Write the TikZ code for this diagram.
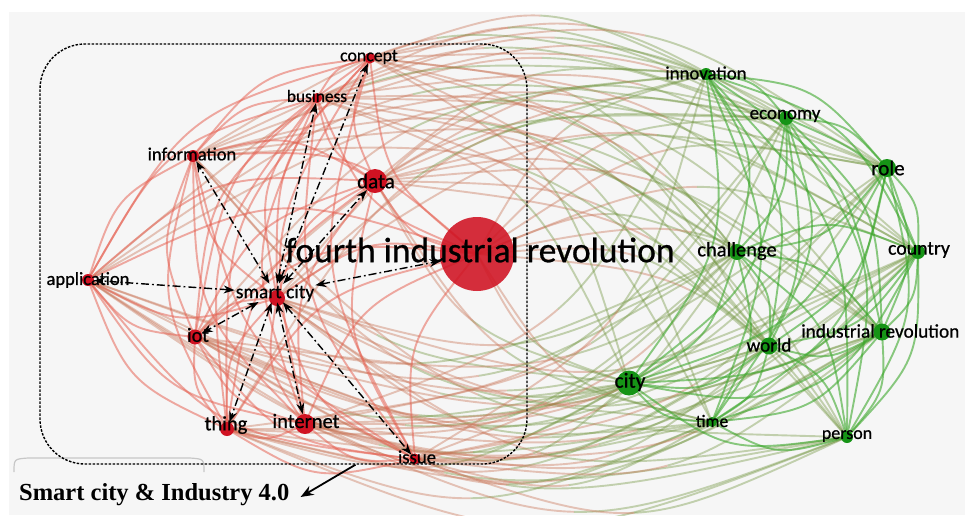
\documentclass[tikz,border=0pt]{standalone}
\usepackage{fontspec}
\setmainfont{Carlito}
\newfontfamily\kwfont{Carlito}[FakeBold=0.7]
\newfontfamily\capfont{Liberation Serif}
\usetikzlibrary{arrows.meta,calc}

\definecolor{panel}{RGB}{246,246,246}
\definecolor{redlink}{RGB}{230,95,80}
\definecolor{greenlink}{RGB}{62,168,45}
\definecolor{redmix}{RGB}{200,115,85}
\definecolor{greenmix}{RGB}{115,150,65}
\definecolor{reddot}{RGB}{208,18,34}
\definecolor{greendot}{RGB}{22,148,22}

\tikzset{
  link/.style={line width=1.9pt, opacity=0.52},
  kw/.style={font=\kwfont\fontsize{#1}{#1}\selectfont, text=black, inner sep=0pt},
  kw/.default=19,
  rdot/.style={circle, fill=reddot, inner sep=0pt, minimum size=#1},
  gdot/.style={circle, fill=greendot, inner sep=0pt, minimum size=#1},
  assoc/.style={{Stealth[length=11pt,width=8pt]}-{Stealth[length=11pt,width=8pt]},
    line width=1.4pt, dash pattern=on 8pt off 3pt on 1.8pt off 3pt},
}

% control point (c) of a link, bowed away from the middle of the map
\newcommand\bowlink[2]{%
  \coordinate (m) at ($(#1)!.5!(#2)$);
  \path let \p1=($(#2)-(#1)$), \p2=($(m)-(ctr)$) in
    \pgfextra{\pgfmathparse{((\x1/100)*(\y2/100)-(\y1/100)*(\x2/100) > 0) ? 90 : -90}\xdef\bowang{\pgfmathresult}};
  \coordinate (c) at ($(m)!.4!\bowang:(#2)$);
}

\begin{document}
\begin{tikzpicture}[x=1pt, y=-1pt]
    \useasboundingbox (0,0) rectangle (965,515);
    \fill[panel] (9,12) rectangle (965,515);
    \draw[black!22, line width=1.2pt] (14,472) .. controls (14,459) .. (28,458) -- (190,458) .. controls (204,459) .. (204,472);

    % Keyword positions
    \coordinate (ctr) at (490,262);
    \foreach \n/\x/\y in {fir/477/254, smart/277/298, data/375/181, concept/370/58,
        business/317/98, information/193/156, application/88/280, iot/195/337,
        thing/227/429, internet/305/424, issue/415/459,
        innovation/706/74, economy/786/118, role/887/168, challenge/737/252,
        country/918/252, world/769/346, indrev/882/332, city/629/383,
        time/712/422, person/847/437} {
        \coordinate (\n) at (\x,\y);
    }

    % Links between the clusters (red half, green half)
    \foreach \a in {fir,smart,data,concept,business,information,application,iot,thing,internet,issue} {
        \foreach \b in {innovation,economy,role,challenge,country,world,indrev,city,time,person} {
            \bowlink{\a}{\b}
            \coordinate (h) at ($(m)!.75!(c)$);
            \draw[link, redmix, opacity=0.4] (\a) .. controls ($(\a)!.5!(c)$) and ($(\a)!.75!(c)$) .. (h);
            \draw[link, greenmix, opacity=0.4] (h) .. controls ($(\b)!.75!(c)$) and ($(\b)!.5!(c)$) .. (\b);
        }
    }

    % Links inside the red cluster
    \foreach \a [count=\i] in {fir,smart,data,concept,business,information,application,iot,thing,internet,issue} {
        \foreach \b [count=\j] in {fir,smart,data,concept,business,information,application,iot,thing,internet,issue} {
            \ifnum\j>\i
                \bowlink{\a}{\b}
                \draw[link, redlink] (\a) .. controls (c) .. (\b);
            \fi
        }
    }

    % Links inside the green cluster
    \foreach \a [count=\i] in {innovation,economy,role,challenge,country,world,indrev,city,time,person} {
        \foreach \b [count=\j] in {innovation,economy,role,challenge,country,world,indrev,city,time,person} {
            \ifnum\j>\i
                \bowlink{\a}{\b}
                \draw[link, greenlink, opacity=0.6] (\a) .. controls (c) .. (\b);
            \fi
        }
    }

    % Dots
    \node[rdot=74pt, fill opacity=0.88] (d-fir) at (fir) {};
    \foreach \n/\s in {smart/16, data/24, concept/11, business/10, information/12,
        application/12, iot/15, thing/14, internet/20, issue/11} {
        \node[rdot=\s] (d-\n) at (\n) {};
    }
    \foreach \n/\s in {innovation/12, economy/14, role/18, challenge/16, country/14,
        world/17, indrev/17, city/25, time/10, person/12} {
        \node[gdot=\s] (d-\n) at (\n) {};
    }

    % Labels
    \node[kw=35.5] (t-fir) at (480,250) {fourth industrial revolution};
    \foreach \n/\t/\x/\y/\s in {smart/smart city/275/293/19.5, data/data/376/181/21,
        concept/concept/369/57/17.8, business/business/317/96/17.3,
        information/information/192/154/18.5, application/application/88/280/18.5,
        iot/iot/198/335/20, thing/thing/226/425/20.5, internet/internet/306/421/20.5,
        issue/issue/417/457/18.7, innovation/innovation/706/73/18.8,
        economy/economy/785/116/19, role/role/888/168/21, challenge/challenge/737/251/20.5,
        country/country/919/250/19.8, world/world/769/345/19.2, city/city/630/382/21.5,
        time/time/712/421/17.5, person/person/847/436/18} {
        \node[kw=\s] (t-\n) at (\x,\y) {\t};
    }
    \node[kw=19.3, anchor=west] (t-indrev) at (801,331) {industrial revolution};

    % Associations of smart city
    \foreach \n in {information, business, concept, data, application, fir, iot, thing, internet, issue} {
        \draw[assoc, shorten <=1pt] (t-smart) -- (d-\n);
    }

    % Group frame and caption
    \node[draw, line width=1.4pt, dash pattern=on 2.5pt off 1.5pt, rounded corners=45pt,
        minimum width=487pt, minimum height=420pt] (cluster) at (283.5,254) {};
    \node[font=\capfont\bfseries\fontsize{24.5}{24.5}\selectfont, inner sep=0pt, anchor=west] (caption) at (19,495) {Smart city \& Industry 4.0};
    \draw[-{Stealth[length=13pt,width=10pt]}, line width=1.8pt] ([xshift=72pt]cluster.south) -- ([xshift=11pt,yshift=-2pt]caption.east);
\end{tikzpicture}
\end{document}
